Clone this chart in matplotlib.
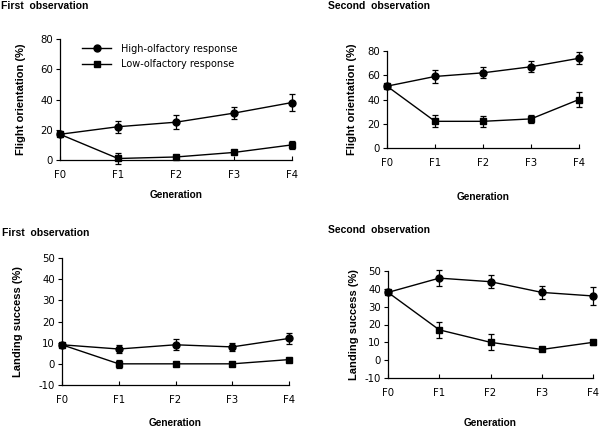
import matplotlib
matplotlib.use("Agg")
import matplotlib.pyplot as plt
from matplotlib.lines import Line2D

generations = ["F0", "F1", "F2", "F3", "F4"]

# Flight orientation, first observation
fo1_high = [17, 22, 25, 31, 38]
fo1_high_err = [0, 4, 4.5, 4, 5.5]
fo1_low = [17, 1, 2, 5, 10]
fo1_low_err = [0, 3.5, 1, 1, 2.5]

# Flight orientation, second observation
fo2_high = [51, 59, 62, 67, 74]
fo2_high_err = [0, 5, 4.5, 4.5, 5]
fo2_low = [51, 22, 22, 24, 40]
fo2_low_err = [0, 5, 4.5, 3, 6]

# Landing success, first observation
ls1_high = [9, 7, 9, 8, 12]
ls1_high_err = [0, 2, 2.5, 2, 2.5]
ls1_low = [9, 0, 0, 0, 2]
ls1_low_err = [0, 2, 0.5, 0.5, 0.5]

# Landing success, second observation
ls2_high = [38, 46, 44, 38, 36]
ls2_high_err = [0, 4.5, 3.5, 3.5, 5]
ls2_low = [38, 17, 10, 6, 10]
ls2_low_err = [0, 4.5, 4.5, 1, 1.5]

legend_labels = ["High-olfactory response", "Low-olfactory response"]

plt.rcParams['font.family'] = ['DejaVu Sans']
plt.rcParams['axes.unicode_minus'] = False

LAB_FONT = ['Liberation Sans', 'DejaVu Sans']

W, H = 600, 429
fig = plt.figure(figsize=(W / 100, H / 100), dpi=100)

def px_axes(left, right, top, bottom):
    return fig.add_axes([left / W, 1 - bottom / H, (right - left) / W, (bottom - top) / H])

FS = 7.3

def panel(ax, hi, hie, lo, loe, ylim, yticks, ylabel, ylab_x, gen_y, legend=False):
    x = list(range(len(generations)))
    ax.errorbar(x, hi, yerr=hie, color="black", marker="o", markersize=5,
                lw=1, capsize=2.5, elinewidth=0.9, capthick=0.9, clip_on=False)
    ax.errorbar(x, lo, yerr=loe, color="black", marker="s", markersize=5,
                lw=1, capsize=2.5, elinewidth=0.9, capthick=0.9, clip_on=False)
    ax.set_xlim(0, 4)
    ax.set_ylim(*ylim)
    ax.set_yticks(yticks)
    ax.set_xticks(x)
    ax.set_xticklabels(generations)
    for s in ("top", "right"):
        ax.spines[s].set_visible(False)
    ax.spines["left"].set_linewidth(0.9)
    ax.spines["bottom"].set_linewidth(0.9)
    ax.tick_params(axis="y", direction="out", length=3, width=0.8, labelsize=FS, pad=2)
    ax.tick_params(axis="x", direction="in", length=3, width=0.8, labelsize=FS, pad=7)
    ax.set_ylabel(ylabel, fontsize=8.0, fontweight="bold", family=LAB_FONT)
    bb = ax.get_position()
    ax.yaxis.set_label_coords((ylab_x / W - bb.x0) / bb.width, 0.5)
    ax.yaxis.label.set_va("center")
    ax.set_xlabel("Generation", fontsize=7.2, fontweight="bold", family=LAB_FONT)
    ax.xaxis.set_label_coords(0.5, ((1 - gen_y / H) - bb.y0) / bb.height)
    ax.xaxis.label.set_va("center")
    if legend:
        handles = [
            Line2D([], [], color="black", lw=1, marker="o", markersize=5),
            Line2D([], [], color="black", lw=1, marker="s", markersize=5),
        ]
        ax.legend(handles, legend_labels, loc="upper left", bbox_to_anchor=(0.07, 1.01),
                  frameon=False, fontsize=7.0, handlelength=3.0, handletextpad=1.0,
                  borderaxespad=0.2, labelspacing=0.55)

ax1 = px_axes(60, 292, 39, 160)
panel(ax1, fo1_high, fo1_high_err, fo1_low, fo1_low_err, (0, 80), [0, 20, 40, 60, 80],
      "Flight orientation (%)", 21, 195, legend=True)

ax2 = px_axes(387, 579, 51, 148)
panel(ax2, fo2_high, fo2_high_err, fo2_low, fo2_low_err, (0, 80), [0, 20, 40, 60, 80],
      "Flight orientation (%)", 352, 197)

ax3 = px_axes(62, 289, 258, 385)
panel(ax3, ls1_high, ls1_high_err, ls1_low, ls1_low_err, (-10, 50), [-10, 0, 10, 20, 30, 40, 50],
      "Landing success (%)", 18, 423)

ax4 = px_axes(388, 593, 271, 378)
panel(ax4, ls2_high, ls2_high_err, ls2_low, ls2_low_err, (-10, 50), [-10, 0, 10, 20, 30, 40, 50],
      "Landing success (%)", 354, 423)

def title(x, y, s):
    fig.text(x / W, 1 - y / H, s, fontsize=7.5, fontweight="bold", family=LAB_FONT,
             ha="left", va="center")

title(1, 6, "First  observation")
title(328, 6, "Second  observation")
title(2, 233, "First  observation")
title(328, 230, "Second  observation")

fig.savefig("out.png", dpi=100)
